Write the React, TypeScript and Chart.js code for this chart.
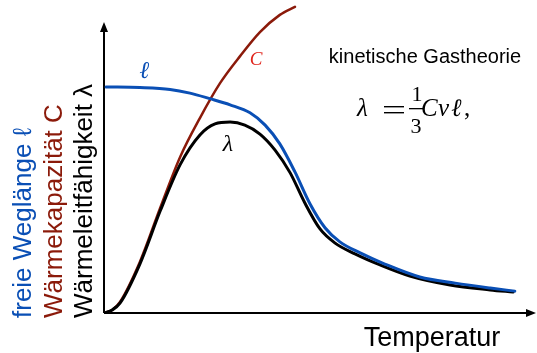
import React, { useEffect, useRef } from "react";
import { Chart, registerables } from "chart.js";

Chart.register(...registerables);

// Temperature (arbitrary units, 0..100) and curve values (arbitrary units, 0..100)
const freeMeanPathX = [0.5, 8.3, 15.3, 19.9, 24.5, 29.2, 33.8, 37.3, 40.7, 44.2, 47.7, 51.2, 54.6, 59.3, 65.0, 73.1, 81.3, 89.4, 95.1];
const freeMeanPathY = [73.4, 73.2, 72.6, 71.4, 69.6, 67.6, 65.0, 61.0, 54.9, 45.8, 35.4, 27.6, 23.1, 19.5, 15.9, 11.7, 9.7, 8.1, 7.1];

const conductivityX = [0, 1.9, 3.7, 8.3, 13.0, 17.6, 22.2, 25.7, 29.2, 32.6, 36.1, 39.6, 43.1, 46.5, 50.0, 53.5, 58.1, 63.9, 70.8, 80.1, 89.4, 94.7];
const conductivityY = [0, 1.0, 3.2, 15.9, 33.1, 48.1, 57.8, 61.4, 62.0, 61.0, 58.1, 52.9, 45.5, 35.7, 27.3, 22.7, 19.2, 15.6, 12.0, 9.1, 7.5, 6.8];

const heatCapacityX = [0, 1.9, 3.7, 8.3, 13.0, 17.6, 22.2, 26.9, 31.5, 36.1, 40.7, 44.2];
const heatCapacityY = [0, 1.0, 3.6, 16.6, 34.1, 50.6, 63.3, 74.7, 83.4, 91.2, 96.8, 99.4];

const yTitleLines = ["freie Weglänge ℓ", "Wärmekapazität C", "Wärmeleitfähigkeit λ"];
const xTitle = "Temperatur";
const noteTitle = "kinetische Gastheorie";

const BLUE = "#0a4fb5";
const RED = "#8b1a0a";
const RED_LABEL = "#e0241b";
const BLACK = "#000000";

const zip = (xs: number[], ys: number[]) => xs.map((x, i) => ({ x, y: ys[i] }));

const SANS = "'Liberation Sans', Arial, sans-serif";
const SERIF = "'Liberation Serif', 'DejaVu Serif', serif";

const decorPlugin = {
  id: "decor",
  beforeDatasetsDraw(chart: any) {
    const ctx = chart.ctx as CanvasRenderingContext2D;
    const xs = chart.scales.x;
    const ys = chart.scales.y;
    const x0 = xs.getPixelForValue(0);
    const y0 = ys.getPixelForValue(0);
    const xEnd = chart.chartArea.right;
    const yTop = 22;
    ctx.save();
    ctx.strokeStyle = "#000";
    ctx.fillStyle = "#000";
    ctx.lineWidth = 2;
    ctx.beginPath();
    ctx.moveTo(x0, y0);
    ctx.lineTo(x0, yTop + 6);
    ctx.moveTo(x0, y0);
    ctx.lineTo(xEnd - 6, y0);
    ctx.stroke();
    ctx.beginPath();
    ctx.moveTo(x0, yTop);
    ctx.lineTo(x0 - 4, yTop + 10);
    ctx.lineTo(x0 + 4, yTop + 10);
    ctx.closePath();
    ctx.fill();
    ctx.beginPath();
    ctx.moveTo(xEnd, y0);
    ctx.lineTo(xEnd - 10, y0 - 4);
    ctx.lineTo(xEnd - 10, y0 + 4);
    ctx.closePath();
    ctx.fill();
    ctx.restore();
  },
  afterDatasetsDraw(chart: any) {
    const ctx = chart.ctx as CanvasRenderingContext2D;
    ctx.save();
    // y axis titles (rotated)
    const cols = [31, 62, 92];
    const colors = [BLUE, RED, BLACK];
    ctx.font = `26px ${SANS}`;
    ctx.textAlign = "left";
    ctx.textBaseline = "alphabetic";
    yTitleLines.forEach((t, i) => {
      ctx.save();
      ctx.translate(cols[i], 318);
      ctx.rotate(-Math.PI / 2);
      ctx.fillStyle = colors[i];
      ctx.fillText(t, 0, 0);
      ctx.restore();
    });
    // x axis title
    ctx.fillStyle = "#000";
    ctx.textAlign = "center";
    ctx.font = `27px ${SANS}`;
    ctx.fillText(xTitle, 432, 346);
    // annotation
    ctx.font = `20px ${SANS}`;
    ctx.fillText(noteTitle, 425, 63);
    // formula  λ = (1/3) C v ℓ,
    ctx.font = `italic 25px ${SERIF}`;
    ctx.textAlign = "left";
    ctx.fillText("λ", 357, 116);
    ctx.fillRect(384, 106, 20, 1.4);
    ctx.fillRect(384, 112, 20, 1.4);
    ctx.font = `22px ${SERIF}`;
    ctx.textAlign = "center";
    ctx.fillText("1", 417, 101);
    ctx.fillText("3", 416, 133);
    ctx.fillRect(409, 108, 15, 1.3);
    ctx.font = `italic 25px ${SERIF}`;
    ctx.textAlign = "left";
    ctx.fillText("C", 421, 116);
    ctx.fillText("v", 438, 116);
    ctx.fillText("ℓ", 451, 116);
    ctx.font = `25px ${SERIF}`;
    ctx.fillText(",", 464, 116);
    // curve labels
    ctx.textAlign = "center";
    ctx.font = `bold italic 24px ${SERIF}`;
    ctx.fillStyle = BLUE;
    ctx.fillText("ℓ", 145, 78);
    ctx.font = `italic 19px ${SERIF}`;
    ctx.fillStyle = RED_LABEL;
    ctx.fillText("C", 256, 65);
    ctx.fillStyle = BLACK;
    ctx.font = `italic 24px ${SERIF}`;
    ctx.fillText("λ", 228, 151);
    ctx.restore();
  },
};

export default function App() {
  const ref = useRef<HTMLCanvasElement | null>(null);
  useEffect(() => {
    if (!ref.current) return;
    const chart = new Chart(ref.current, {
      type: "line",
      data: {
        datasets: [
          {
            label: "freie Weglänge",
            data: zip(freeMeanPathX, freeMeanPathY),
            borderColor: BLUE,
            borderWidth: 3,
            pointRadius: 0,
            cubicInterpolationMode: "monotone",
            order: 0,
          },
          {
            label: "Wärmeleitfähigkeit",
            data: zip(conductivityX, conductivityY),
            borderColor: BLACK,
            borderWidth: 3,
            pointRadius: 0,
            cubicInterpolationMode: "monotone",
            order: 1,
          },
          {
            label: "Wärmekapazität",
            data: zip(heatCapacityX, heatCapacityY),
            borderColor: RED,
            borderWidth: 2.5,
            pointRadius: 0,
            cubicInterpolationMode: "monotone",
            order: 2,
          },
        ],
      },
      options: {
        animation: false,
        responsive: false,
        devicePixelRatio: 1,
        layout: { padding: { left: 104, right: 1, top: 5, bottom: 40 } },
        scales: {
          x: { type: "linear", min: 0, max: 100, display: false },
          y: { type: "linear", min: 0, max: 100, display: false },
        },
        plugins: {
          legend: { display: false },
          tooltip: { enabled: false },
        },
        elements: { line: { borderCapStyle: "round", borderJoinStyle: "round" } },
      } as any,
      plugins: [decorPlugin],
    });
    return () => chart.destroy();
  }, []);
  return (
    <div style={{ position: "fixed", left: 0, top: 0, width: 537, height: 353, background: "#fff" }}>
      <canvas ref={ref} width={537} height={353} style={{ display: "block" }} />
    </div>
  );
}
